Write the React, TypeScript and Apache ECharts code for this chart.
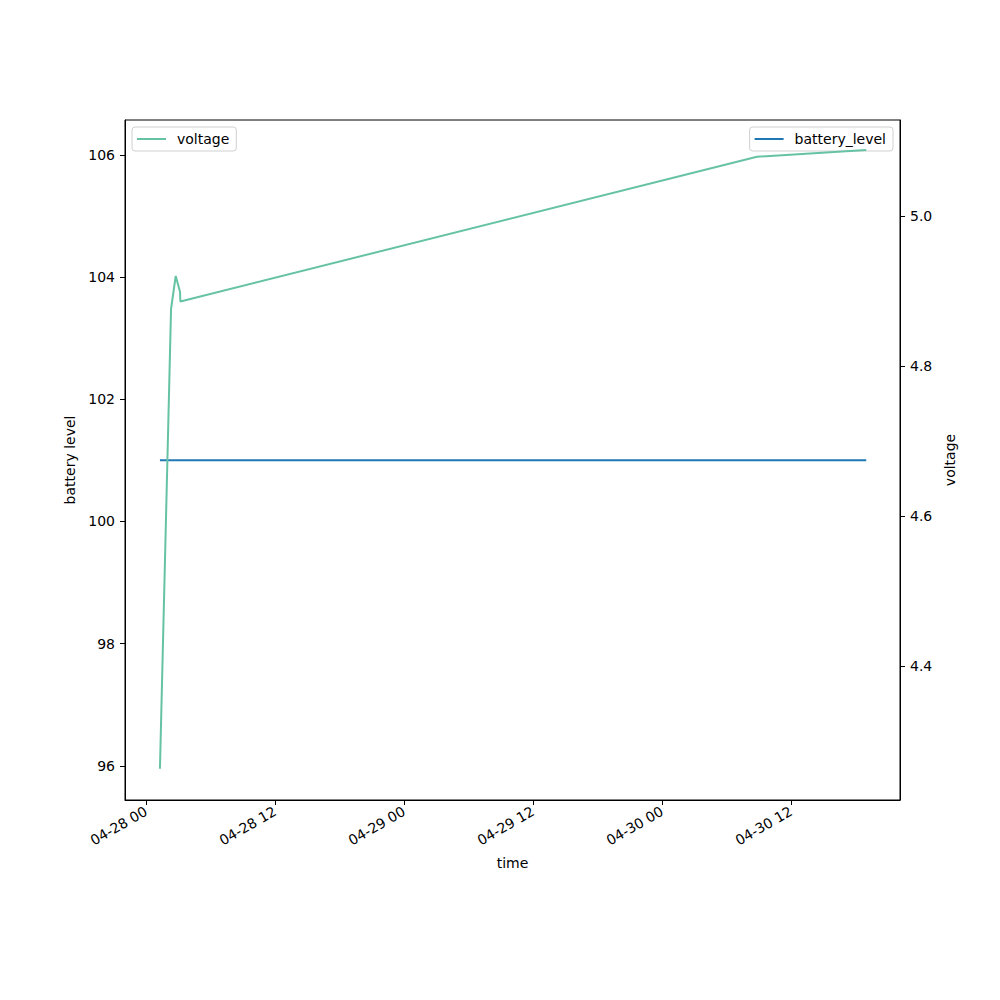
import React, { useEffect, useRef } from "react";
import * as echarts from "echarts";

// Times (April, "MM-DD HH:mm")
const times = [
  "04-28 01:18",
  "04-28 02:20",
  "04-28 02:46",
  "04-28 03:10",
  "04-28 03:12",
  "04-30 08:50",
  "04-30 19:00",
];
const voltage = [4.263, 4.876, 4.92, 4.899, 4.886, 5.079, 5.088];
const batteryLevel = [101, 101, 101, 101, 101, 101, 101];

const xTickHours = [0, 12, 24, 36, 48, 60];
const xTickLabels = ["04-28 00", "04-28 12", "04-29 00", "04-29 12", "04-30 00", "04-30 12"];
const leftTicks = [96, 98, 100, 102, 104, 106];
const rightTicks = [4.4, 4.6, 4.8, 5.0];

function toHours(s: string): number {
  const [md, hm] = s.split(" ");
  const day = parseInt(md.split("-")[1], 10);
  const [h, m] = hm.split(":").map((v) => parseInt(v, 10));
  return (day - 28) * 24 + h + m / 60;
}

const FONT = "DejaVu Sans";

export default function App() {
  const ref = useRef<HTMLDivElement>(null);
  useEffect(() => {
    if (!ref.current) return;
    const chart = echarts.init(ref.current, undefined, { renderer: "svg" });
    const xs = times.map(toHours);
    const txt = { fontFamily: FONT, fontSize: 14, color: "#000" };
    const legendBase = {
      top: 127,
      padding: [5, 7, 5, 5],
      borderColor: "#d0d0d0",
      borderWidth: 1,
      borderRadius: 3,
      backgroundColor: "#fff",
      icon: "rect",
      itemWidth: 29,
      itemHeight: 2,
      itemGap: 8,
      z: 4,
      textStyle: { ...txt, padding: [0, 0, 0, 6] },
    };
    chart.setOption({
      animation: false,
      backgroundColor: "#fff",
      textStyle: { fontFamily: FONT },
      grid: {
        left: 125,
        top: 120,
        right: 100,
        bottom: 200,
        show: true,
        borderColor: "#000",
        borderWidth: 1,
        containLabel: false,
      },
      legend: [
        { ...legendBase, data: ["voltage"], left: 132 },
        { ...legendBase, data: ["battery_level"], right: 107 },
      ],
      xAxis: {
        type: "value",
        min: -1.95,
        max: 70.14,
        name: "time",
        nameLocation: "middle",
        nameGap: 56,
        nameTextStyle: { ...txt },
        axisLine: { show: true, onZero: false, lineStyle: { color: "#000", width: 1 } },
        axisTick: {
          show: true,
          inside: false,
          length: 5,
          customValues: xTickHours,
          lineStyle: { color: "#000" },
        },
        axisLabel: {
          show: true,
          rotate: 30,
          margin: 10,
          customValues: xTickHours,
          formatter: (v: number) => {
            const i = xTickHours.indexOf(Math.round(v));
            return i >= 0 ? xTickLabels[i] : "";
          },
          ...txt,
        },
        splitLine: { show: false },
      },
      yAxis: [
        {
          type: "value",
          min: 95.44,
          max: 106.57,
          position: "left",
          name: "battery level",
          nameLocation: "middle",
          nameGap: 41,
          nameTextStyle: { ...txt },
          axisLine: { show: true, onZero: false, lineStyle: { color: "#000", width: 1 } },
          axisTick: {
            show: true,
            inside: false,
            length: 5,
            customValues: leftTicks,
            lineStyle: { color: "#000" },
          },
          axisLabel: { show: true, margin: 10, customValues: leftTicks, ...txt },
          splitLine: { show: false },
        },
        {
          type: "value",
          min: 4.2213,
          max: 5.128,
          position: "right",
          name: "voltage",
          nameLocation: "middle",
          nameGap: 35,
          nameTextStyle: { ...txt },
          axisLine: { show: true, onZero: false, lineStyle: { color: "#000", width: 1 } },
          axisTick: {
            show: true,
            inside: false,
            length: 5,
            customValues: rightTicks,
            lineStyle: { color: "#000" },
          },
          axisLabel: {
            show: true,
            margin: 10,
            customValues: rightTicks,
            formatter: (v: number) => v.toFixed(1),
            ...txt,
          },
          splitLine: { show: false },
        },
      ],
      series: [
        {
          name: "battery_level",
          type: "line",
          yAxisIndex: 0,
          data: xs.map((x, i) => [x, batteryLevel[i]]),
          showSymbol: false,
          symbol: "none",
          lineStyle: { color: "#1f77b4", width: 2 },
          itemStyle: { color: "#1f77b4" },
          z: 3,
        },
        {
          name: "voltage",
          type: "line",
          yAxisIndex: 1,
          data: xs.map((x, i) => [x, voltage[i]]),
          showSymbol: false,
          symbol: "none",
          lineStyle: { color: "#66c2a5", width: 2 },
          itemStyle: { color: "#66c2a5" },
          z: 6,
        },
      ],
    });
    return () => chart.dispose();
  }, []);
  return (
    <div
      ref={ref}
      style={{ position: "fixed", left: 0, top: 0, width: 1000, height: 1000 }}
    />
  );
}
